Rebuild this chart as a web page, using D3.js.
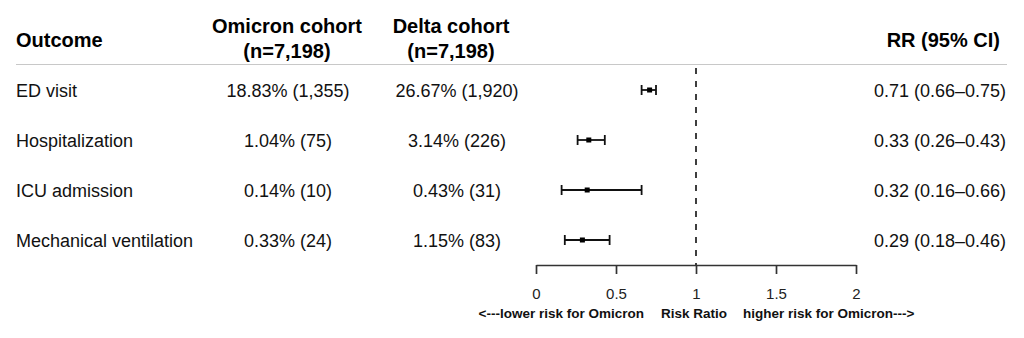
<!DOCTYPE html>
<html>
<head>
<meta charset="utf-8">
<script src="https://cdn.jsdelivr.net/npm/d3@7"></script>
<style>
  html, body { margin: 0; padding: 0; background: #fff; }
  svg { display: block; font-family: "Liberation Sans", Arial, Helvetica, sans-serif; }
</style>
</head>
<body>
<svg id="chart" width="1024" height="338"></svg>
<script>
// Outcomes compared between the two cohorts
const outcomes = ["ED visit", "Hospitalization", "ICU admission", "Mechanical ventilation"];
const omicronCells = ["18.83% (1,355)", "1.04% (75)", "0.14% (10)", "0.33% (24)"];
const deltaCells = ["26.67% (1,920)", "3.14% (226)", "0.43% (31)", "1.15% (83)"];
const rr = [0.71, 0.33, 0.32, 0.29];
const rrLow = [0.66, 0.26, 0.16, 0.18];
const rrHigh = [0.75, 0.43, 0.66, 0.46];
const rrTicks = [0, 0.5, 1, 1.5, 2];
const headers = {
  outcome: "Outcome",
  omicron: ["Omicron cohort", "(n=7,198)"],
  delta: ["Delta cohort", "(n=7,198)"],
  rr: "RR (95% CI)"
};
const axisTitle = "Risk Ratio";
const lowerNote = "<---lower risk for Omicron";
const higherNote = "higher risk for Omicron--->";

const fmt = d3.format(".2f");
const rrText = rr.map((v, i) => `${fmt(v)} (${fmt(rrLow[i])}\u2013${fmt(rrHigh[i])})`);

const svg = d3.select("#chart");

// Column positions
const colOutcome = 16, colOmicron = 288, colOmicronHead = 287, colDelta = 457, colDeltaHead = 451, colRR = 1006;

// Row band scale
const y = d3.scaleBand().domain(outcomes).range([65, 265]).paddingInner(0).paddingOuter(0);
const rowY = d => y(d) + y.bandwidth() / 2;

// Risk ratio scale
const x = d3.scaleLinear().domain([0, 2]).range([536, 856]);
const axisY = 265;

// Header
const head = svg.append("g").attr("font-weight", "bold").attr("font-size", 20).attr("fill", "#000");
head.append("text").attr("x", colOutcome).attr("y", 47).text(headers.outcome);
headers.omicron.forEach((t, i) => head.append("text").attr("x", colOmicronHead).attr("y", 33 + i * 25).attr("text-anchor", "middle").text(t));
headers.delta.forEach((t, i) => head.append("text").attr("x", colDeltaHead).attr("y", 33 + i * 25).attr("text-anchor", "middle").text(t));
head.append("text").attr("x", 1000).attr("y", 47).attr("text-anchor", "end").text(headers.rr);

// Header rule
svg.append("line").attr("x1", 16).attr("x2", 1007).attr("y1", 64.5).attr("y2", 64.5)
  .attr("stroke", "#c8c8c8").attr("stroke-width", 1);

// Table body
const body = svg.append("g").attr("font-size", 18).attr("fill", "#111");
const rows = body.selectAll("g.row").data(outcomes).join("g").attr("class", "row")
  .attr("transform", d => `translate(0,${rowY(d)})`);
rows.append("text").attr("x", colOutcome).attr("dy", "0.37em").text(d => d);
rows.append("text").attr("x", colOmicron).attr("dy", "0.37em").attr("text-anchor", "middle").text((d, i) => omicronCells[i]);
rows.append("text").attr("x", colDelta).attr("dy", "0.37em").attr("text-anchor", "middle").text((d, i) => deltaCells[i]);
rows.append("text").attr("x", colRR).attr("dy", "0.37em").attr("text-anchor", "end").text((d, i) => rrText[i]);

// Reference line at RR = 1
svg.append("line").attr("x1", x(1)).attr("x2", x(1)).attr("y1", 68).attr("y2", axisY)
  .attr("stroke", "#2a2a2a").attr("stroke-width", 1.8).attr("stroke-dasharray", "6,7");

// Confidence intervals and point estimates
const ci = svg.append("g").attr("stroke", "#111").attr("stroke-width", 1.8);
outcomes.forEach((o, i) => {
  const cy = rowY(o);
  ci.append("line").attr("x1", x(rrLow[i])).attr("x2", x(rrHigh[i])).attr("y1", cy).attr("y2", cy);
  [rrLow[i], rrHigh[i]].forEach(v => {
    ci.append("line").attr("x1", x(v)).attr("x2", x(v)).attr("y1", cy - 5).attr("y2", cy + 5);
  });
  svg.append("rect").attr("x", x(rr[i]) - 2.5).attr("y", cy - 2.5).attr("width", 5).attr("height", 5).attr("fill", "#000");
});

// Axis
const axis = d3.axisBottom(x).tickValues(rrTicks).tickFormat(d3.format("")).tickSize(9).tickPadding(14).tickSizeOuter(0);
const ag = svg.append("g").attr("transform", `translate(0,${axisY})`).call(axis);
ag.select(".domain").attr("stroke", "#333").attr("stroke-width", 1.7);
ag.selectAll(".tick line").attr("stroke", "#333").attr("stroke-width", 1.7);
ag.selectAll(".tick text").attr("font-size", 15).attr("fill", "#222").attr("font-family", null);

// Axis notes
const notes = svg.append("g").attr("font-weight", "bold").attr("font-size", 13.5).attr("fill", "#111");
notes.append("text").attr("x", 644).attr("y", 318).attr("text-anchor", "end").text(lowerNote);
notes.append("text").attr("x", x(1) - 2).attr("y", 318).attr("text-anchor", "middle").text(axisTitle);
notes.append("text").attr("x", 743).attr("y", 318).attr("text-anchor", "start").text(higherNote);
</script>
</body>
</html>
